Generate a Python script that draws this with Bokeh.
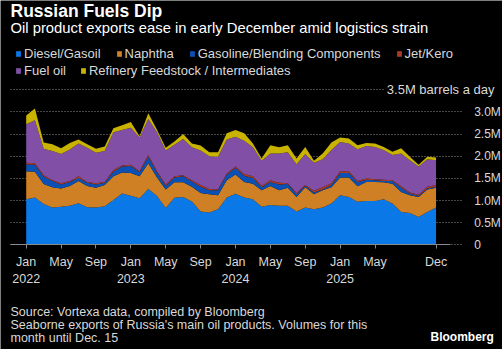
import pandas as pd
from bokeh.plotting import figure
from bokeh.models import ColumnDataSource, FixedTicker, Legend, LegendItem, Label, Range1d
from bokeh.embed import file_html
from bokeh.resources import INLINE

# ---------------- data (million barrels a day) ----------------
months = pd.date_range("2022-01-01", periods=48, freq="MS")

diesel = [1.03, 1.07, 0.92, 0.84, 0.86, 0.88, 0.94, 0.85, 0.84, 0.87, 1.01, 1.16,
          1.11, 1.05, 1.26, 1.10, 0.83, 1.06, 1.08, 0.98, 0.75, 0.73, 0.80, 1.07,
          1.15, 1.07, 1.03, 0.86, 0.90, 0.88, 0.88, 0.75, 0.84, 0.80, 0.84, 0.93,
          1.12, 1.08, 0.97, 0.99, 0.99, 1.03, 0.93, 0.74, 0.72, 0.63, 0.74, 0.84]
naphtha = [0.63, 0.58, 0.45, 0.46, 0.41, 0.45, 0.50, 0.48, 0.45, 0.48, 0.54, 0.47,
           0.51, 0.50, 0.58, 0.42, 0.42, 0.35, 0.33, 0.33, 0.42, 0.41, 0.32, 0.39,
           0.44, 0.35, 0.35, 0.37, 0.43, 0.35, 0.41, 0.33, 0.46, 0.34, 0.39, 0.37,
           0.40, 0.44, 0.35, 0.43, 0.43, 0.38, 0.45, 0.45, 0.40, 0.45, 0.51, 0.45]
gasoline = [0.16, 0.16, 0.17, 0.14, 0.09, 0.09, 0.07, 0.07, 0.07, 0.05, 0.10, 0.14,
            0.16, 0.09, 0.15, 0.11, 0.08, 0.11, 0.14, 0.12, 0.14, 0.09, 0.11, 0.12,
            0.15, 0.14, 0.13, 0.07, 0.09, 0.13, 0.08, 0.06, 0.03, 0.04, 0.02, 0.05,
            0.10, 0.10, 0.09, 0.05, 0.04, 0.03, 0.06, 0.10, 0.04, 0.02, 0.02, 0.02]
jet = [0.03, 0.03, 0.03, 0.02, 0.03, 0.02, 0.04, 0.02, 0.03, 0.02, 0.04, 0.02,
       0.03, 0.02, 0.04, 0.03, 0.03, 0.03, 0.02, 0.03, 0.04, 0.03, 0.02, 0.03,
       0.03, 0.04, 0.04, 0.03, 0.04, 0.04, 0.02, 0.03, 0.02, 0.04, 0.05, 0.04,
       0.04, 0.04, 0.03, 0.03, 0.02, 0.03, 0.02, 0.03, 0.02, 0.03, 0.04, 0.04]
fuel_oil = [0.87, 0.97, 0.60, 0.66, 0.66, 0.71, 0.74, 0.77, 0.69, 0.70, 0.85, 0.80,
            0.83, 0.76, 0.81, 0.88, 0.77, 0.71, 0.82, 0.74, 0.78, 0.74, 0.74, 0.77,
            0.67, 0.75, 0.65, 0.57, 0.60, 0.66, 0.70, 0.65, 0.70, 0.63, 0.63, 0.75,
            0.66, 0.63, 0.72, 0.73, 0.73, 0.67, 0.57, 0.74, 0.73, 0.64, 0.62, 0.56]
feedstock = [0.20, 0.27, 0.14, 0.15, 0.13, 0.15, 0.09, 0.08, 0.09, 0.10, 0.09, 0.11,
             0.13, 0.03, 0.13, 0.06, 0.06, 0.07, 0.11, 0.09, 0.11, 0.09, 0.10, 0.14,
             0.15, 0.17, 0.09, 0.05, 0.19, 0.14, 0.16, 0.13, 0.16, 0.05, 0.13, 0.17,
             0.10, 0.11, 0.09, 0.07, 0.08, 0.07, 0.07, 0.12, 0.08, 0.04, 0.06, 0.06]

series_names = ["Diesel/Gasoil", "Naphtha", "Gasoline/Blending Components",
                "Jet/Kero", "Fuel oil", "Refinery Feedstock / Intermediates"]
series_keys = ["diesel", "naphtha", "gasoline", "jet", "fuel_oil", "feedstock"]
colors = ["#0a78e6", "#cf8024", "#0b50b4", "#ad3a20", "#8150a6", "#c9b300"]

x_tick_index = [0, 4, 8, 12, 16, 20, 24, 28, 32, 36, 40, 47]
x_tick_labels = ["Jan\n2022", "May", "Sep", "Jan\n2023", "May", "Sep",
                 "Jan\n2024", "May", "Sep", "Jan\n2025", "May", "Dec"]
y_ticks = [0, 0.5, 1.0, 1.5, 2.0, 2.5, 3.0]
y_tick_labels = ["0", "0.5M", "1.0M", "1.5M", "2.0M", "2.5M", "3.0M"]
grid_ticks = [0, 0.5, 1.0, 1.5, 2.0, 2.5, 3.0, 3.5]

title_text = "Russian Fuels Dip"
subtitle_text = "Oil product exports ease in early December amid logistics strain"
unit_text = "3.5M barrels a day"
footnote_lines = ["Source: Vortexa data, compiled by Bloomberg",
                  "Seaborne exports of Russia's main oil products. Volumes for this",
                  "month until Dec. 15"]
brand_text = "Bloomberg"

# ---------------- layout (pixels) ----------------
FONT = "Liberation Sans"
W, H = 502, 349
X0, DX = 25.7, 8.72        # screen x of first month, pixels per month
Y0, DY = 244.3, 44.29      # screen y of zero, pixels per million b/d
PLOT_LEFT, AXIS_END, PLOT_RIGHT = 10, 450, 461.7


def xdata(px):
    return (px - X0) / DX


def ydata(py):
    return (Y0 - py) / DY


src = ColumnDataSource(dict(x=list(range(len(months))), diesel=diesel, naphtha=naphtha,
                            gasoline=gasoline, jet=jet, fuel_oil=fuel_oil, feedstock=feedstock))

p = figure(width=W, height=H, output_backend="svg", toolbar_location=None, title=None,
           x_range=Range1d(xdata(0), xdata(W)), y_range=Range1d(ydata(H), ydata(0)),
           min_border=0, y_axis_location="right")
p.background_fill_color = "black"
p.border_fill_color = "black"
p.outline_line_color = None

renderers = p.varea_stack(stackers=series_keys, x="x", color=colors, source=src)

# x axis, pinned to y = 0
xa = p.xaxis[0]
xa.fixed_location = 0
xa.ticker = FixedTicker(ticks=x_tick_index)
xa.major_label_overrides = dict(zip(x_tick_index, x_tick_labels))
xa.bounds = (xdata(PLOT_LEFT), xdata(AXIS_END))
xa.axis_line_color = "#8a8a8a"
xa.major_tick_line_color = "#8a8a8a"
xa.major_tick_in = 0
xa.major_tick_out = 4
xa.minor_tick_line_color = None
xa.major_label_text_color = "#d9d9d9"
xa.major_label_text_font = FONT
xa.major_label_text_font_size = "12.5px"
xa.major_label_standoff = 6

# y axis on the right, pinned at the right end of the grid
ya = p.yaxis[0]
ya.fixed_location = xdata(PLOT_RIGHT)
ya.ticker = FixedTicker(ticks=y_ticks)
ya.major_label_overrides = dict(zip(y_ticks, y_tick_labels))
ya.axis_line_color = None
ya.major_tick_line_color = None
ya.minor_tick_line_color = None
ya.major_label_standoff = 6
ya.major_label_text_color = "#d9d9d9"
ya.major_label_text_font = FONT
ya.major_label_text_font_size = "12px"

p.xgrid.grid_line_color = None
yg = p.ygrid[0]
yg.ticker = FixedTicker(ticks=grid_ticks)
yg.grid_line_color = "#8c8c8c"
yg.grid_line_dash = "1 2"
yg.grid_line_width = 1
try:
    yg.cross_bounds = (xdata(PLOT_LEFT), xdata(PLOT_RIGHT))
except Exception:
    pass
yg.bounds = (0, 3.5)


def add_label(text, X, Yc, size, color="#d9d9d9", bold=False, align="left", bg=None):
    lab = Label(x=X, y=H - Yc, x_units="screen", y_units="screen",
                text=text, text_font=FONT, text_font_size=size, text_color=color,
                text_font_style="bold" if bold else "normal", text_align=align,
                text_baseline="middle")
    if bg:
        lab.background_fill_color = bg
        lab.padding = 2
    p.add_layout(lab)


add_label(title_text, 10, 10.2, "17.5px", color="white", bold=True)
add_label(subtitle_text, 10, 27.3, "14.8px", color="white")
add_label(unit_text, 496, 89.3, "13px", bg="black", align="right")
for line, yc in zip(footnote_lines, [311.8, 324.8, 337.8]):
    add_label(line, 10, yc, "12.5px")
add_label(brand_text, 493.3, 336.8, "12px", color="white", bold=True, align="right")

# legend rows
LEG_H = 14.5
for idx, glyph_top, spacing in (((0, 1, 2, 3), 46.3, 15), ((4, 5), 63.3, 14)):
    leg = Legend(items=[LegendItem(label=series_names[i], renderers=[renderers[i]]) for i in idx],
                 location=(15, H - glyph_top - LEG_H), orientation="horizontal",
                 glyph_width=6, glyph_height=7, label_height=7, label_standoff=3,
                 spacing=spacing, padding=0, margin=0,
                 label_text_font=FONT, label_text_font_size="13px",
                 label_text_color="#d9d9d9", border_line_color=None,
                 background_fill_alpha=0)
    p.add_layout(leg)

open("out.html", "w").write(file_html(p, INLINE))
